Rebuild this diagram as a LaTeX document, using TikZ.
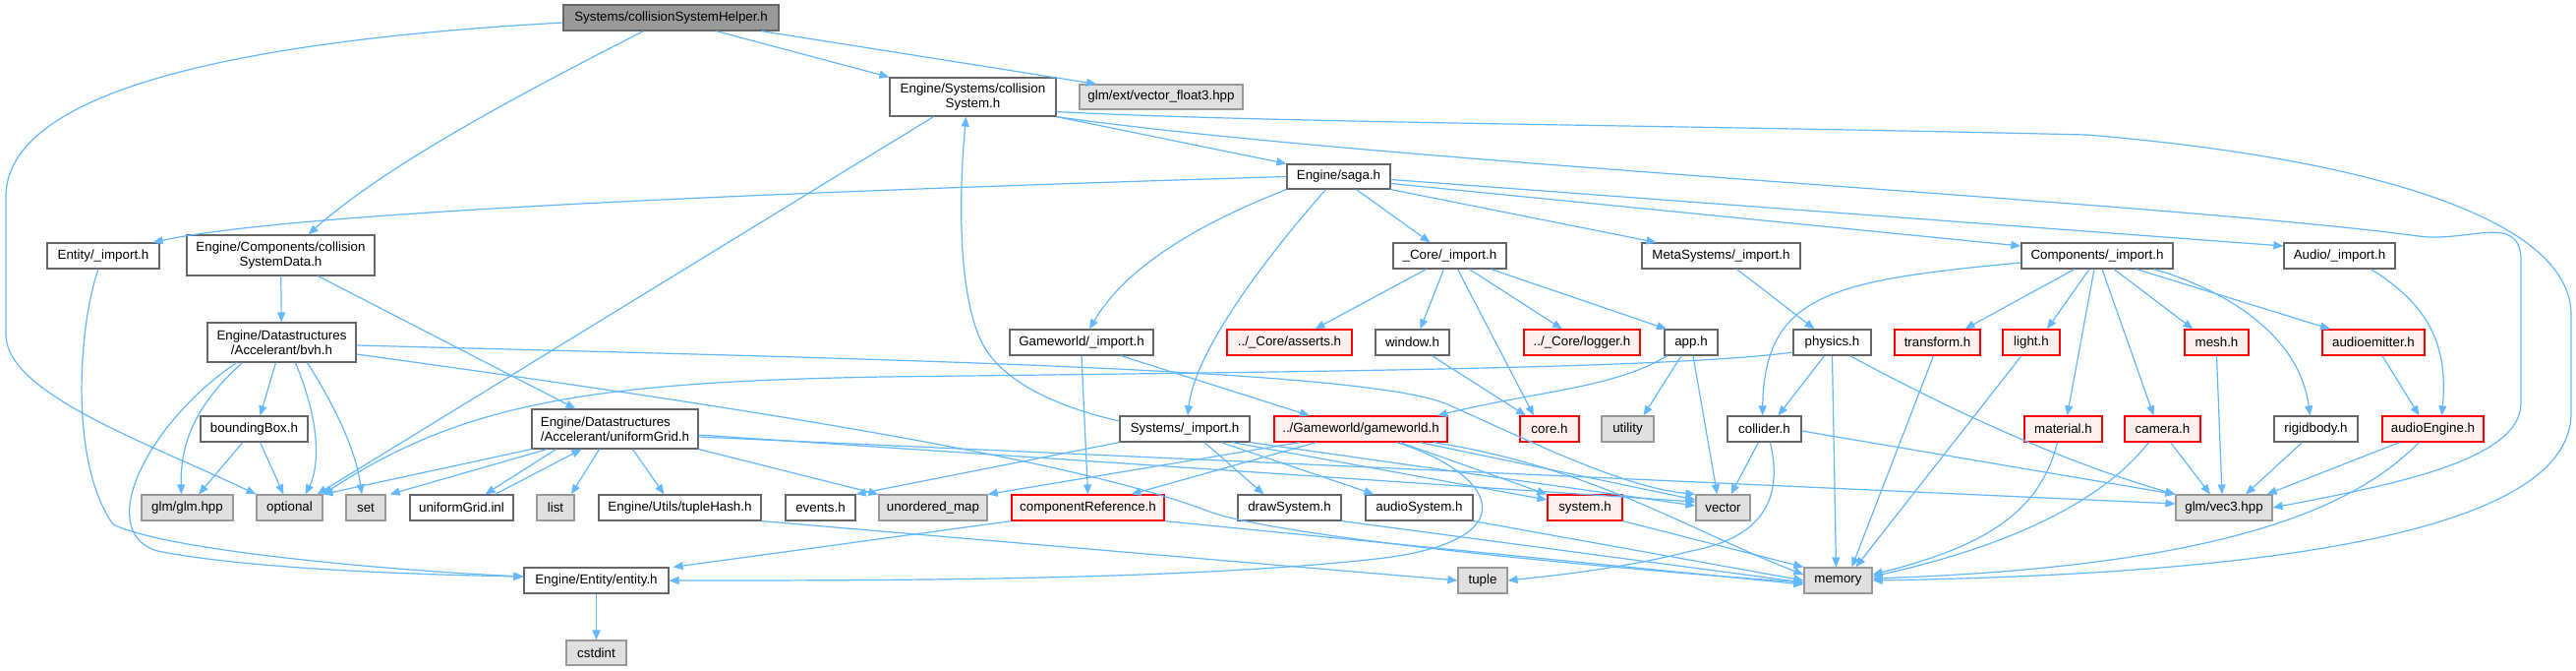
\documentclass[tikz,border=0pt]{standalone}
\usepackage{fontspec}
\setmainfont{Liberation Sans}
\usetikzlibrary{arrows.meta}
\definecolor{edgec}{HTML}{63B8FF}
\definecolor{nbord}{HTML}{666666}
\definecolor{gbord}{HTML}{999999}
\definecolor{gfill}{HTML}{E0E0E0}
\definecolor{rfill}{HTML}{FFF0F0}
\definecolor{rootfill}{HTML}{999999}
\newcommand\mynode[6]{\node[#1,minimum width=#5pt,minimum height=#6pt] (#2) at (#3,#4)}
\begin{document}
\begin{tikzpicture}[x=0.5pt,y=-0.5pt,
 nb/.style={draw=nbord, fill=white, line width=0.6pt, inner sep=0pt, align=center, text=black, font=\fontsize{6.67pt}{7.6pt}\selectfont},
 ng/.style={nb, draw=gbord, fill=gfill},
 nr/.style={nb, draw=red, fill=rfill},
 nroot/.style={nb, fill=rootfill},
 e/.style={draw=edgec, line width=0.6pt, -{Triangle[length=5pt,width=4pt]}}]
\useasboundingbox (0,0) rectangle (2620,681);
\fill[white] (0,0) rectangle (2620,681);
% nodes
\mynode{nroot}{root}{682.5}{18}{109.5}{13}{Systems/collisionSystemHelper.h};
\mynode{nb}{cs}{989.5}{98.5}{84.5}{19.5}{Engine/Systems/collision\\System.h};
\mynode{ng}{vf}{1181}{98.5}{83}{12.5}{glm/ext/vector\_float3.hpp};
\mynode{nb}{saga}{1361.5}{179.5}{52.5}{12.5}{Engine/saga.h};
\mynode{nb}{entimp}{105}{260}{57}{13}{Entity/\_import.h};
\mynode{nb}{csd}{285.5}{259.5}{95.5}{20.5}{Engine/Components/collision\\SystemData.h};
\mynode{nb}{coreimp}{1474.5}{260}{57.5}{13}{\_Core/\_import.h};
\mynode{nb}{metaimp}{1750.5}{260}{80.5}{13}{MetaSystems/\_import.h};
\mynode{nb}{compimp}{2133}{260}{77}{13}{Components/\_import.h};
\mynode{nb}{audioimp}{2379.5}{260}{56.5}{13}{Audio/\_import.h};
\mynode{nb}{bvh}{286.5}{348}{75.5}{20}{Engine/Datastructures\\/Accelerant/bvh.h};
\mynode{nb}{gwimp}{1100}{348}{73}{13}{Gameworld/\_import.h};
\mynode{nr}{asserts}{1311.5}{348}{63.5}{13}{../\_Core/asserts.h};
\mynode{nb}{window}{1436.5}{348}{37.5}{13}{window.h};
\mynode{nr}{logger}{1609}{348}{59}{13}{../\_Core/logger.h};
\mynode{nb}{app}{1720}{348}{27}{13}{app.h};
\mynode{nb}{physics}{1863.5}{348}{39.5}{13}{physics.h};
\mynode{nr}{transform}{1970.5}{348}{43.5}{13}{transform.h};
\mynode{nr}{light}{2066}{348}{29}{13}{light.h};
\mynode{nr}{mesh}{2254.5}{348}{32.5}{13}{mesh.h};
\mynode{nr}{aemit}{2414}{348}{52}{13}{audioemitter.h};
\mynode{nb}{bbox}{258.5}{436}{54.5}{13}{boundingBox.h};
\mynode{nb,align=left}{ug}{625.5}{436}{84.5}{20}{Engine/Datastructures\\/Accelerant/uniformGrid.h};
\mynode{nb}{sysimp}{1205}{436}{66}{13}{Systems/\_import.h};
\mynode{nr}{gw}{1384}{436}{88}{13}{../Gameworld/gameworld.h};
\mynode{nr}{core}{1576}{436}{30}{13}{core.h};
\mynode{ng}{utility}{1655.5}{436}{26.5}{13}{utility};
\mynode{nb}{collider}{1794.5}{436}{37.5}{13}{collider.h};
\mynode{nr}{material}{2098.5}{436}{39.5}{13}{material.h};
\mynode{nr}{camera}{2199.5}{436}{38.5}{13}{camera.h};
\mynode{nb}{rigid}{2355.5}{436}{42.5}{13}{rigidbody.h};
\mynode{nr}{aeng}{2474.5}{436}{51.5}{13}{audioEngine.h};
\mynode{ng}{glmhpp}{190.5}{516}{46.5}{13}{glm/glm.hpp};
\mynode{ng}{optional}{294.5}{516}{33.5}{13}{optional};
\mynode{ng}{set}{372}{516}{20}{13}{set};
\mynode{nb}{ugi}{469.5}{516}{52.5}{13}{uniformGrid.inl};
\mynode{ng}{list}{565}{516}{19}{13}{list};
\mynode{nb}{thash}{691.5}{516}{82.5}{13}{Engine/Utils/tupleHash.h};
\mynode{nb}{events}{834.5}{516}{35.5}{13}{events.h};
\mynode{ng}{umap}{949}{516}{55}{13}{unordered\_map};
\mynode{nr}{compref}{1106.5}{516}{77.5}{13}{componentReference.h};
\mynode{nb}{drawsys}{1311.5}{516}{52.5}{13}{drawSystem.h};
\mynode{nb}{audiosys}{1443.5}{516}{54.5}{13}{audioSystem.h};
\mynode{nr}{system}{1612}{516}{38}{13}{system.h};
\mynode{ng}{vector}{1752.5}{516}{27.5}{13}{vector};
\mynode{ng}{vec3}{2262}{516}{49}{13}{glm/vec3.hpp};
\mynode{nb}{entity}{606.5}{590}{73.5}{13}{Engine/Entity/entity.h};
\mynode{ng}{tuple}{1508}{590}{25}{13}{tuple};
\mynode{ng}{memory}{1869.5}{590}{34.5}{13}{memory};
\mynode{ng}{cstdint}{606.5}{663.5}{30.5}{12.5}{cstdint};
% edges from root
\draw[e] ([yshift=-2.5pt]root.west) .. controls (300,38) and (6,80) .. (6,200) -- (6,340) .. controls (6,400) and (150,450) .. (optional.north west);
\draw[e] ([xshift=-14pt]root.south) .. controls (520,100) and (390,170) .. ([xshift=14pt]csd.north);
\draw[e] ([xshift=23pt]root.south) -- (cs.north west);
\draw[e] ([xshift=46pt]root.south) -- ([xshift=-33pt]vf.north);
% collisionSystem
\draw[e] ([xshift=-20pt]cs.south) -- ([xshift=14pt]optional.north);
\draw[e] (cs.south east) -- (saga.north west);
\draw[e] ([yshift=2.5pt]cs.south east) .. controls (1300,125) and (1700,127) .. (2122,137) .. controls (2400,160) and (2615,220) .. (2615,320) -- (2615,420) .. controls (2615,560) and (2200,585) .. (memory.east);
\draw[e] (cs.south east) .. controls (1400,165) and (2200,205) .. (2460,240) .. controls (2510,247) and (2564,215) .. (2564,265) -- (2564,410) .. controls (2564,470) and (2420,495) .. (vec3.east);
% saga
\draw[e] (saga.west) .. controls (800,195) and (300,215) .. ([xshift=-3.5pt]entimp.north east);
\draw[e] (saga.south west) .. controls (1200,235) and (1140,280) .. ([xshift=4pt]gwimp.north);
\draw[e] ([xshift=-6.5pt]saga.south) .. controls (1280,270) and (1215,360) .. ([xshift=1.5pt]sysimp.north);
\draw[e] ([xshift=9pt]saga.south) -- ([xshift=-10pt]coreimp.north);
\draw[e] (saga.south east) -- ([xshift=-33pt]metaimp.north);
\draw[e] ([yshift=-3.5pt]saga.east) -- ([yshift=5pt]compimp.west);
\draw[e] ([yshift=-1.5pt]saga.east) -- ([yshift=5pt]audioimp.west);
% Entity import
\draw[e] ([xshift=-2.5pt]entimp.south) .. controls (80,330) and (70,470) .. (115,533) .. controls (170,560) and (400,580) .. ([yshift=2pt]entity.west);
% collisionSystemData
\draw[e] (csd) -- (bvh);
\draw[e] ([xshift=19pt]csd.south) -- ([xshift=-20pt]ug.north);
% bvh
\draw[e] ([xshift=-3pt]bvh.south) -- ([xshift=3pt]bbox.north);
\draw[e] ([xshift=-20pt]bvh.south) .. controls (200,410) and (183,450) .. ([xshift=-3pt]glmhpp.north);
\draw[e] ([xshift=7pt]bvh.south) .. controls (330,440) and (322,480) .. ([xshift=8pt]optional.north);
\draw[e] ([xshift=13pt]bvh.south) .. controls (345,420) and (362,460) .. ([xshift=-2pt]set.north);
\draw[e] ([xshift=-23pt]bvh.south) .. controls (150,430) and (95,540) .. (160,560) .. controls (250,578) and (420,584) .. ([yshift=2pt]entity.west);
\draw[e] ([yshift=-1.5pt]bvh.east) .. controls (900,365) and (1380,375) .. (1470,410) .. controls (1560,450) and (1650,495) .. (vector.north west);
\draw[e] ([yshift=-6pt]bvh.east) .. controls (800,420) and (1100,470) .. (1230,520) .. controls (1300,545) and (1600,575) .. ([yshift=-1pt]memory.west);
% boundingBox
\draw[e] (bbox) -- (glmhpp);
\draw[e] (bbox) -- (optional);
% uniformGrid
\draw[e] (ug.south west) -- (optional.north east);
\draw[e] ([xshift=8pt]ug.south west) -- ([xshift=2pt]set.north east);
\draw[e] ([xshift=-30pt]ug.south) -- ([xshift=12pt]ugi.north);
\draw[e] ([xshift=17pt]ugi.north) -- ([xshift=-17pt]ug.south);
\draw[e] ([xshift=-8pt]ug.south) -- ([xshift=8pt]list.north);
\draw[e] ([xshift=9pt]ug.south) -- ([xshift=-8pt]thash.north);
\draw[e] (ug.south east) -- (umap.north west);
\draw[e] ([yshift=-3pt]ug.east) -- ([yshift=3pt]vector.west);
\draw[e] ([yshift=-4pt]ug.east) -- ([yshift=2pt]vec3.west);
\draw[e] (thash.south east) -- (tuple.west);
\draw[e] (entity) -- (cstdint);
% Systems import
\draw[e] ([yshift=4pt]sysimp.west) .. controls (1060,410) and (1010,380) .. (995,340) .. controls (975,290) and (975,200) .. ([xshift=-3.5pt]cs.south);
\draw[e] (sysimp.south west) -- (events.north east);
\draw[e] ([xshift=10pt]sysimp.south) -- ([xshift=-13pt]drawsys.north);
\draw[e] ([xshift=18.5pt]sysimp.south) -- ([xshift=-23pt]audiosys.north);
\draw[e] ([xshift=24pt]sysimp.south) -- ([yshift=4pt]system.west);
\draw[e] (sysimp.south east) -- ([yshift=1pt]vector.west);
% gameworld
\draw[e] ([xshift=-22.5pt]gw.south) -- ([xshift=22pt]compref.north);
\draw[e] ([xshift=-31pt]gw.south) -- (umap.north east);
\draw[e] ([xshift=18pt]gw.south) .. controls (1520,480) and (1560,550) .. (1400,568) .. controls (1200,590) and (900,590) .. (entity.east);
\draw[e] ([xshift=20pt]gw.south) -- (system.north west);
\draw[e] ([xshift=30pt]gw.south) -- ([yshift=4pt]vector.west);
\draw[e] ([xshift=37pt]gw.south) .. controls (1620,475) and (1720,540) .. ([yshift=3pt]memory.west);
% componentReference etc.
\draw[e] (compref.south west) -- ([xshift=2pt]entity.north east);
\draw[e] (compref.south east) -- ([yshift=-2pt]memory.west);
\draw[e] (drawsys.south east) -- ([yshift=-1pt]memory.west);
\draw[e] (audiosys.south east) -- (memory.west);
\draw[e] (system.south east) -- (memory.north west);
% Gameworld import
\draw[e] (gwimp.south) -- (compref.north);
\draw[e] ([xshift=20pt]gwimp.south) -- ([xshift=-26pt]gw.north);
% Core import
\draw[e] ([xshift=-12pt]coreimp.south) -- ([xshift=13pt]asserts.north);
\draw[e] ([xshift=-3pt]coreimp.south) -- ([xshift=4pt]window.north);
\draw[e] ([xshift=4pt]coreimp.south) -- ([xshift=-8pt]core.north);
\draw[e] ([xshift=10pt]coreimp.south) -- ([xshift=-10pt]logger.north);
\draw[e] ([xshift=21pt]coreimp.south) -- ([xshift=-12.5pt]app.north);
\draw[e] ([xshift=10pt]window.south) -- ([xshift=-12pt]core.north);
\draw[e] ([xshift=-12pt]app.south) .. controls (1640,395) and (1560,398) .. ([xshift=39pt]gw.north);
\draw[e] ([xshift=-5pt]app.south) -- ([xshift=8pt]utility.north);
\draw[e] ([xshift=1pt]app.south) -- ([xshift=-3pt]vector.north);
% MetaSystems / physics
\draw[e] ([xshift=8pt]metaimp.south) -- ([xshift=-9pt]physics.north);
\draw[e] ([yshift=-5pt]physics.west) .. controls (1700,375) and (1300,378) .. (900,383) .. controls (600,388) and (470,410) .. (optional.north east);
\draw[e] ([xshift=-4pt]physics.south) -- ([xshift=7pt]collider.north);
\draw[e] (physics.south) -- ([xshift=-1pt]memory.north);
\draw[e] ([xshift=9pt]physics.south) .. controls (1990,420) and (2100,470) .. (vec3.north west);
% Components import
\draw[e] ([yshift=-3.5pt]compimp.west) .. controls (1860,285) and (1795,300) .. ([xshift=-1pt]collider.north);
\draw[e] ([xshift=-11.5pt]compimp.south) -- ([xshift=14pt]transform.north);
\draw[e] ([xshift=-4pt]compimp.south) -- ([xshift=8pt]light.north);
\draw[e] ([xshift=-1.5pt]compimp.south) -- ([xshift=2pt]material.north);
\draw[e] ([xshift=2.5pt]compimp.south) -- ([xshift=-4.5pt]camera.north);
\draw[e] ([xshift=8.5pt]compimp.south) -- ([xshift=-12pt]mesh.north);
\draw[e] ([xshift=20pt]compimp.south) -- ([xshift=-22pt]aemit.north);
\draw[e] ([xshift=29pt]compimp.south) .. controls (2280,300) and (2340,350) .. ([xshift=-3pt]rigid.north);
% Audio
\draw[e] ([xshift=16pt]audioimp.south) .. controls (2470,310) and (2490,350) .. ([xshift=4.5pt]aeng.north);
\draw[e] ([xshift=4.5pt]aemit.south) -- ([xshift=-7pt]aeng.north);
% components to leaves
\draw[e] ([xshift=-2pt]transform.south) -- ([xshift=7pt]memory.north);
\draw[e] ([xshift=-5pt]light.south) -- ([xshift=9pt]memory.north);
\draw[e] ([xshift=-3pt]material.south) .. controls (2075,520) and (2020,555) .. ([yshift=3pt]memory.east);
\draw[e] ([xshift=-7pt]camera.south) .. controls (2130,520) and (2020,560) .. ([yshift=2pt]memory.east);
\draw[e] ([xshift=4pt]camera.south) -- ([xshift=-7pt]vec3.north);
\draw[e] (mesh.south) -- ([xshift=-1pt]vec3.north);
\draw[e] ([xshift=-7pt]rigid.south) -- ([xshift=11pt]vec3.north);
\draw[e] ([xshift=-17pt]aeng.south) -- ([xshift=-3pt]vec3.north east);
\draw[e] ([xshift=-7pt]aeng.south) .. controls (2400,510) and (2280,575) .. ([yshift=1pt]memory.east);
% collider
\draw[e] ([xshift=-3pt]collider.south) -- ([xshift=4pt]vector.north);
\draw[e] ([xshift=3pt]collider.south) .. controls (1812,500) and (1800,545) .. (1720,560) .. controls (1650,578) and (1580,585) .. (tuple.east);
\draw[e] ([yshift=-1pt]collider.east) -- (vec3.north west);
\end{tikzpicture}
\end{document}
